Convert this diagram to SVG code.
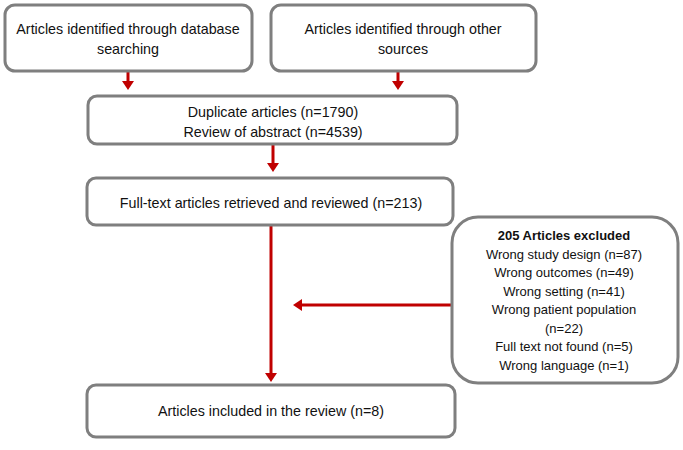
<svg xmlns="http://www.w3.org/2000/svg" width="683" height="450" viewBox="0 0 683 450">
<defs>
<style>
.box{fill:#fff;stroke:#7f7f7f;stroke-width:3}
.t{font-family:"Liberation Sans",Arial,sans-serif;font-size:14.3px;fill:#111;text-anchor:middle}
.s{font-size:13px}
.b{font-weight:bold}
.c{stroke:#c00000;stroke-width:3;fill:none}
</style>
<marker id="ah" viewBox="0 0 9 12" refX="3" refY="6" markerWidth="3" markerHeight="4" markerUnits="strokeWidth" orient="auto">
<path d="M0,0L9,6L0,12z" fill="#c00000"/>
</marker>
</defs>
<rect width="683" height="450" fill="#fff"/>
<g id="connectors">
<line class="c" x1="128" y1="71" x2="128" y2="84" marker-end="url(#ah)"/>
<line class="c" x1="398" y1="71" x2="398" y2="84" marker-end="url(#ah)"/>
<line class="c" x1="273" y1="144" x2="273" y2="166" marker-end="url(#ah)"/>
<line class="c" x1="271" y1="225" x2="271" y2="376" marker-end="url(#ah)"/>
<line class="c" x1="453" y1="305" x2="299" y2="305" marker-end="url(#ah)"/>
</g>
<g id="db">
<rect class="box" x="5" y="5" width="247" height="66" rx="10"/>
<text class="t" x="128" y="34">Articles identified through database</text>
<text class="t" x="128" y="54">searching</text>
</g>
<g id="other">
<rect class="box" x="271" y="5" width="265" height="66" rx="10"/>
<text class="t" x="403" y="34">Articles identified through other</text>
<text class="t" x="403" y="54">sources</text>
</g>
<g id="dup">
<rect class="box" x="88" y="96" width="369" height="48" rx="9"/>
<text class="t" x="273" y="117">Duplicate articles (n=1790)</text>
<text class="t" x="273" y="137">Review of abstract (n=4539)</text>
</g>
<g id="fulltext">
<rect class="box" x="87" y="178" width="366" height="47" rx="9"/>
<text class="t" x="271" y="208">Full-text articles retrieved and reviewed (n=213)</text>
</g>
<g id="excluded">
<rect class="box" x="452" y="217" width="226" height="166" rx="26"/>
<text class="t s b" x="564" y="240">205 Articles excluded</text>
<text class="t s" x="564" y="258.5">Wrong study design (n=87)</text>
<text class="t s" x="564" y="277">Wrong outcomes (n=49)</text>
<text class="t s" x="564" y="295.5">Wrong setting (n=41)</text>
<text class="t s" x="564" y="314">Wrong patient population</text>
<text class="t s" x="564" y="332.5">(n=22)</text>
<text class="t s" x="564" y="351">Full text not found (n=5)</text>
<text class="t s" x="564" y="369.5">Wrong language (n=1)</text>
</g>
<g id="included">
<rect class="box" x="87" y="385" width="368" height="52" rx="9"/>
<text class="t" x="271" y="416">Articles included in the review (n=8)</text>
</g>
</svg>
